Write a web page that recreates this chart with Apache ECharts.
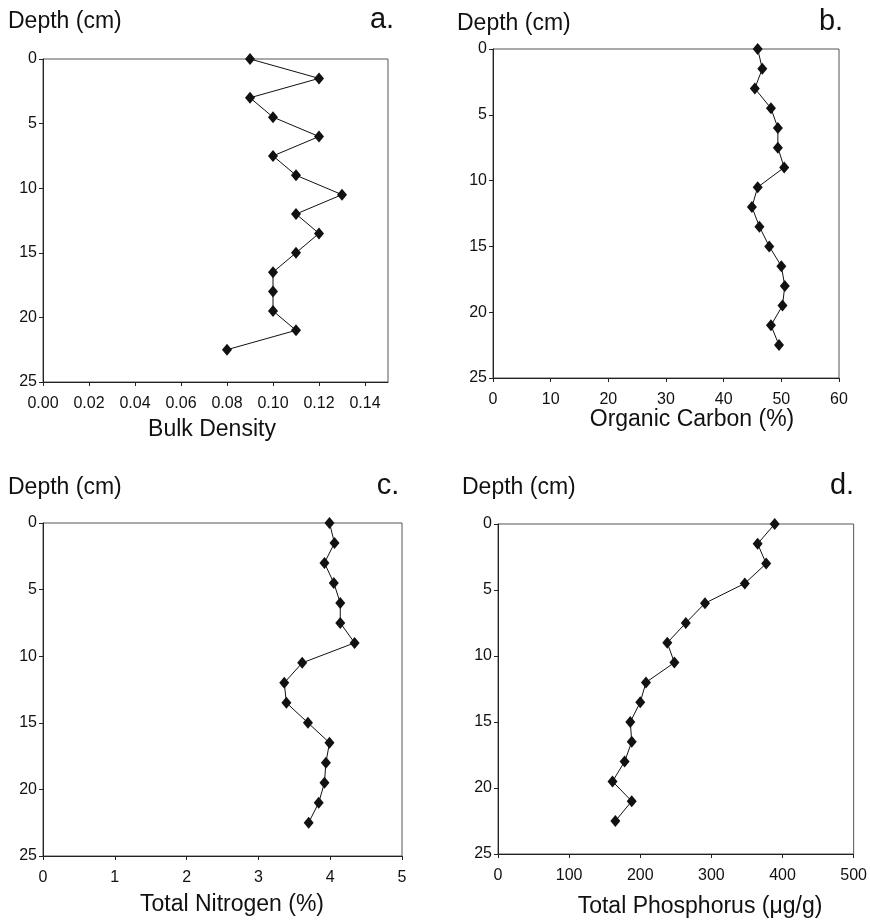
<!DOCTYPE html>
<html>
<head>
<meta charset="utf-8">
<script src="https://cdn.jsdelivr.net/npm/echarts@6/dist/echarts.min.js"></script>
<style>
  html, body { margin: 0; padding: 0; background: #fff; }
  #chart { width: 870px; height: 920px; }
</style>
</head>
<body>
<div id="chart"></div>
<script>
// sampling depth (cm), shared by all four profiles
var depth = [0, 1.5, 3, 4.5, 6, 7.5, 9, 10.5, 12, 13.5, 15, 16.5, 18, 19.5, 21, 22.5];

var bulkDensity = [0.09, 0.12, 0.09, 0.10, 0.12, 0.10, 0.11, 0.13, 0.11, 0.12, 0.11, 0.10, 0.10, 0.10, 0.11, 0.08];
var organicCarbon = [45.9, 46.7, 45.4, 48.2, 49.4, 49.4, 50.5, 45.9, 44.9, 46.2, 47.9, 50.0, 50.6, 50.2, 48.2, 49.6];
var totalNitrogen = [3.99, 4.06, 3.92, 4.05, 4.14, 4.14, 4.34, 3.61, 3.36, 3.39, 3.69, 3.99, 3.94, 3.92, 3.84, 3.70];
var totalPhosphorus = [389, 365, 377, 347, 291, 264, 238, 248, 208, 200, 186, 188, 178, 161, 188, 165];

var panelLetters = ['a.', 'b.', 'c.', 'd.'];
var xNames = ['Bulk Density', 'Organic Carbon (%)', 'Total Nitrogen (%)', 'Total Phosphorus (\u03bcg/g)'];
var xMax = [0.15, 60, 5, 500];
var xStep = [0.02, 10, 1, 100];
var depthMax = 25;
var depthStep = 5;

var profiles = [bulkDensity, organicCarbon, totalNitrogen, totalPhosphorus];

var grids = [
  { left: 43, top: 59, width: 345, height: 323 },
  { left: 493, top: 49, width: 346, height: 329 },
  { left: 43, top: 523, width: 359, height: 333 },
  { left: 498, top: 524, width: 358, height: 330 }
];

var tickFont = '"Liberation Sans Narrow", "Arial Narrow", "Liberation Sans", sans-serif';
var textFont = '"Liberation Sans", Arial, sans-serif';

var chart = echarts.init(document.getElementById('chart'));

var xAxes = [], yAxes = [], series = [];
profiles.forEach(function (vals, i) {
  xAxes.push({
    type: 'value', gridIndex: i, min: 0, max: xMax[i], interval: xStep[i],
    splitLine: { show: false },
    axisLine: { show: true, onZero: false, lineStyle: { color: '#222', width: 1 } },
    axisTick: { show: true, length: 4, lineStyle: { color: '#222' } },
    axisLabel: {
      color: '#111', fontSize: 16, fontFamily: tickFont, margin: 14,
      showMaxLabel: i !== 0,
      formatter: function (v) { return i === 0 ? v.toFixed(2) : String(v); }
    }
  });
  yAxes.push({
    type: 'value', gridIndex: i, min: 0, max: depthMax, interval: depthStep, inverse: true,
    splitLine: { show: false },
    axisLine: { show: true, onZero: false, lineStyle: { color: '#222', width: 1 } },
    axisTick: { show: true, length: 4, lineStyle: { color: '#222' } },
    axisLabel: { color: '#111', fontSize: 16, fontFamily: tickFont, margin: 6 }
  });
  series.push({
    type: 'line', xAxisIndex: i, yAxisIndex: i,
    data: vals.map(function (v, k) { return [v, depth[k]]; }),
    symbol: 'diamond', symbolSize: [10, 12],
    itemStyle: { color: '#111' },
    lineStyle: { color: '#111', width: 1 },
    animation: false
  });
});

// free text: "Depth (cm)" headers, panel letters and axis titles
var headerPos = [[8, 22], [457, 24], [8, 488], [462, 488]];
var letterPos = [[382, 20], [831, 22], [388, 486], [842, 486]];
var namePos = [[212, 430], [692, 420], [232, 905], [700, 907]];
var graphics = [];
for (var i = 0; i < 4; i++) {
  graphics.push({
    type: 'text', left: headerPos[i][0], top: headerPos[i][1] - 12,
    style: { text: 'Depth (cm)', fontSize: 23, fontFamily: textFont, fill: '#111' }
  });
  graphics.push({
    type: 'text', x: letterPos[i][0], y: letterPos[i][1],
    style: { text: panelLetters[i], fontSize: 29, fontFamily: textFont, fill: '#111', align: 'center', verticalAlign: 'middle' }
  });
  graphics.push({
    type: 'text', x: namePos[i][0], y: namePos[i][1],
    style: { text: xNames[i], fontSize: 23, fontFamily: textFont, fill: '#111', align: 'center', verticalAlign: 'middle' }
  });
}

chart.setOption({
  backgroundColor: '#fff',
  animation: false,
  grid: grids.map(function (g) {
    return { left: g.left, top: g.top, width: g.width, height: g.height, show: true, borderColor: '#555', borderWidth: 1, backgroundColor: 'transparent' };
  }),
  xAxis: xAxes,
  yAxis: yAxes,
  series: series,
  graphic: graphics
});
</script>
</body>
</html>
